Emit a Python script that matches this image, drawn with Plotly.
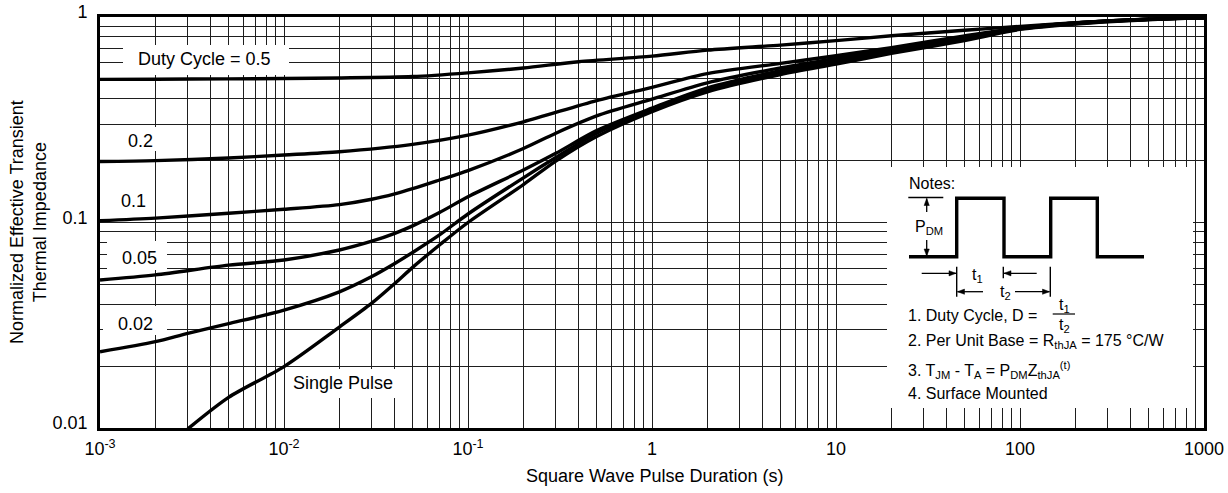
import plotly.graph_objects as go

# ---------------- data ----------------
t_d05 = [0.001, 0.002, 0.005, 0.01, 0.02, 0.05, 0.1, 0.2, 0.4, 1, 2, 5, 10, 20, 50, 100, 200, 500, 1000]
z_d05 = [0.497, 0.498, 0.500, 0.502, 0.505, 0.513, 0.535, 0.565, 0.606, 0.645, 0.69, 0.73, 0.767, 0.81, 0.862, 0.90, 0.937, 0.975, 0.99]

t_d02 = [0.001, 0.002, 0.005, 0.01, 0.02, 0.05, 0.1, 0.2, 0.5, 1, 2, 5, 10, 20, 50, 100, 200, 500, 1000]
z_d02 = [0.198, 0.200, 0.206, 0.213, 0.221, 0.240, 0.266, 0.309, 0.392, 0.455, 0.53, 0.595, 0.648, 0.71, 0.81, 0.885, 0.935, 0.975, 0.99]

t_d01 = [0.001, 0.002, 0.005, 0.01, 0.02, 0.03, 0.04, 0.05, 0.07, 0.1, 0.2, 0.3, 0.5, 1, 2, 5, 10, 20, 50, 100, 200, 500, 1000]
z_d01 = [0.102, 0.105, 0.111, 0.116, 0.1222, 0.1297, 0.1378, 0.146, 0.161, 0.179, 0.229, 0.272, 0.330, 0.398, 0.478, 0.565, 0.628, 0.70, 0.80, 0.885, 0.935, 0.975, 0.99]

t_d005 = [0.001, 0.002, 0.005, 0.01, 0.02, 0.03, 0.04, 0.05, 0.07, 0.1, 0.2, 0.3, 0.5, 1, 2, 5, 10, 20, 50, 100, 200, 500, 1000]
z_d005 = [0.0525, 0.0556, 0.062, 0.0657, 0.0735, 0.0811, 0.0886, 0.0963, 0.1118, 0.1334, 0.18, 0.217, 0.28, 0.36, 0.452, 0.548, 0.61, 0.683, 0.79, 0.88, 0.935, 0.975, 0.99]

t_d002 = [0.001, 0.002, 0.003, 0.005, 0.01, 0.02, 0.03, 0.04, 0.05, 0.07, 0.1, 0.2, 0.3, 0.5, 1, 2, 5, 10, 20, 50, 100, 200, 500, 1000]
z_d002 = [0.0235, 0.0263, 0.0289, 0.0322, 0.0375, 0.046, 0.0546, 0.0632, 0.0715, 0.087, 0.110, 0.165, 0.207, 0.272, 0.352, 0.44, 0.538, 0.603, 0.678, 0.785, 0.875, 0.93, 0.975, 0.99]

t_single = [0.003, 0.005, 0.01, 0.02, 0.03, 0.04, 0.05, 0.07, 0.1, 0.2, 0.3, 0.5, 1, 2, 5, 10, 20, 50, 100, 200, 500, 1000]
z_single = [0.0099, 0.0141, 0.0199, 0.031, 0.0405, 0.0505, 0.0605, 0.0777, 0.100, 0.153, 0.199, 0.262, 0.346, 0.432, 0.525, 0.59, 0.665, 0.768, 0.87, 0.925, 0.97, 0.99]

x_tick_vals = [1e-3, 1e-2, 1e-1, 1, 10, 100, 1000]
x_tick_text = ["10<sup>-3</sup>", "10<sup>-2</sup>", "10<sup>-1</sup>", "1", "10", "100", "1000"]
y_tick_vals = [0.01, 0.1, 1]
y_tick_text = ["0.01", "0.1", "1"]

curve_labels = ["Duty Cycle = 0.5", "0.2", "0.1", "0.05", "0.02", "Single Pulse"]

# ---------------- layout helpers ----------------
FONT = "Liberation Sans, Arial, Helvetica, sans-serif"
W, H = 1228, 493
L, R, T, B = 100, 1204, 17, 428


def px(x):
    return (x - L) / (R - L)


def py(y):
    return (B - y) / (B - T)


# minor grid positions (2..9 in every decade)
x_minor = [round(k * 10 ** e, 6) for e in range(-3, 3) for k in range(2, 10)]
y_minor = [round(k * 10 ** e, 6) for e in range(-2, 0) for k in range(2, 10)]

fig = go.Figure()
for tt, zz in [(t_d05, z_d05), (t_d02, z_d02), (t_d01, z_d01), (t_d005, z_d005), (t_d002, z_d002), (t_single, z_single)]:
    fig.add_trace(go.Scatter(x=tt, y=zz, mode="lines",
                             line=dict(color="black", width=3.4, shape="spline", smoothing=0.8),
                             hoverinfo="skip", showlegend=False))

shapes = []
# white boxes that interrupt the grid behind labels and the notes
for (x0, x1, y0, y1) in [(123, 289, 45, 75), (117, 161, 127, 151), (113, 150, 189, 212),
                         (107, 167, 241, 270), (103, 167, 306, 335), (287, 402, 369, 398),
                         (887, 1193, 167, 408)]:
    shapes.append(dict(type="rect", xref="paper", yref="paper", x0=px(x0), x1=px(x1), y0=py(y1), y1=py(y0),
                       fillcolor="white", line=dict(width=0), layer="above"))


def path_of(pts, close=False):
    s = "M " + " L ".join(f"{px(a):.5f},{py(b):.5f}" for a, b in pts)
    return s + (" Z" if close else "")


def seg(xa, ya, xb, yb, w=1.4):
    return dict(type="line", xref="paper", yref="paper", x0=px(xa), y0=py(ya), x1=px(xb), y1=py(yb),
                line=dict(color="black", width=w), layer="above")


# pulse waveform
wave = [(909, 256.7), (956.7, 256.7), (956.7, 198.3), (1004, 198.3), (1004, 256.7), (1050.7, 256.7),
        (1050.7, 198.3), (1097.3, 198.3), (1097.3, 256.7), (1144, 256.7)]
shapes.append(dict(type="path", xref="paper", yref="paper", path=path_of(wave),
                   line=dict(color="black", width=3.4), layer="above"))
# P_DM top reference line and timing ticks
shapes.append(seg(908.3, 197.5, 943.3, 197.5, 1.4))
shapes.append(seg(956.7, 266.7, 956.7, 296.7, 1.4))
shapes.append(seg(1003.3, 266.7, 1003.3, 278.3, 1.4))
shapes.append(seg(1050.3, 266.7, 1050.3, 296.7, 1.4))
# fraction bar
shapes.append(seg(1052.7, 314, 1075, 314, 1.2))


def arrow(tail, tip):
    (x0, y0), (x1, y1) = tail, tip
    shapes.append(seg(x0, y0, x1, y1, 1.3))
    dx, dy = x1 - x0, y1 - y0
    n = (dx * dx + dy * dy) ** 0.5
    ux, uy = dx / n, dy / n
    bx, by = x1 - 7 * ux, y1 - 7 * uy
    tri = [(x1, y1), (bx - 2.6 * uy, by + 2.6 * ux), (bx + 2.6 * uy, by - 2.6 * ux)]
    shapes.append(dict(type="path", xref="paper", yref="paper", path=path_of(tri, True),
                       fillcolor="black", line=dict(color="black", width=0.5), layer="above"))


arrow((926.7, 212), (926.7, 198.5))
arrow((926.7, 240), (926.7, 256))
arrow((921.7, 273.3), (956, 273.3))
arrow((1036.7, 273.3), (1004, 273.3))
arrow((983, 291.7), (957.5, 291.7))
arrow((1015, 291.7), (1049.5, 291.7))

annotations = []


def label(text, xc, yc, size=18, anchor="center"):
    annotations.append(dict(text=text, xref="paper", yref="paper", x=px(xc), y=py(yc), xanchor=anchor,
                            yanchor="middle", showarrow=False, font=dict(family=FONT, size=size, color="black")))


label(curve_labels[0], 204.5, 59)
label(curve_labels[1], 140.5, 141)
label(curve_labels[2], 133, 201)
label(curve_labels[3], 139, 258)
label(curve_labels[4], 135.5, 324)
label(curve_labels[5], 343, 383)

# notes
label("Notes:", 906.5, 183.3, 16, "left")
label("P<sub>DM</sub>", 929, 228, 16)
label("t<sub>1</sub>", 977, 275, 16)
label("t<sub>2</sub>", 1005, 292, 16)
label("1. Duty Cycle, D =", 906, 315, 16, "left")
label("t<sub>1</sub>", 1064, 305, 16)
label("t<sub>2</sub>", 1064, 325, 16)
label("2. Per Unit Base = R<sub>thJA</sub> = 175 °C/W", 906, 341, 16, "left")
label("3. T<sub>JM</sub> - T<sub>A</sub> = P<sub>DM</sub>Z<sub>thJA</sub><sup>(t)</sup>", 906, 370, 16, "left")
label("4. Surface Mounted", 906, 393.5, 16, "left")

# axis titles
annotations.append(dict(text="Square Wave Pulse Duration (s)", xref="paper", yref="paper", x=px(654), y=py(476),
                        xanchor="center", yanchor="middle", showarrow=False,
                        font=dict(family=FONT, size=18, color="black")))
annotations.append(dict(text="Normalized Effective Transient<br>Thermal Impedance", xref="paper", yref="paper",
                        x=px(29), y=py(222), xanchor="center", yanchor="middle", textangle=-90, showarrow=False,
                        font=dict(family=FONT, size=18, color="black")))

grid_style = dict(showgrid=True, gridcolor="#1e1e1e", gridwidth=1.2)
axis_common = dict(type="log", showline=True, linewidth=2.6, linecolor="black", mirror=True,
                   zeroline=False, ticks="outside", tickcolor="rgba(0,0,0,0)", automargin=False,
                   tickfont=dict(family=FONT, size=18, color="black"), tickmode="array", **grid_style)

fig.update_layout(
    width=W, height=H, autosize=False,
    margin=dict(l=L, r=W - R, t=T, b=H - B, pad=0),
    paper_bgcolor="white", plot_bgcolor="white",
    font=dict(family=FONT, size=18, color="black"),
    xaxis=dict(range=[-3, 3], tickvals=x_tick_vals, ticktext=x_tick_text, ticklen=3,
               minor=dict(tickmode="array", tickvals=x_minor, ticks="", **grid_style), **axis_common),
    yaxis=dict(range=[-2, 0], tickvals=y_tick_vals, ticktext=y_tick_text, ticklen=6, ticklabelshift=-5,
               minor=dict(tickmode="array", tickvals=y_minor, ticks="", **grid_style), **axis_common),
    shapes=shapes, annotations=annotations, showlegend=False,
)

fig.write_html("out.html", config={"displayModeBar": False, "responsive": False},
               post_script="document.body.style.margin='0';document.body.style.overflow='hidden';")
